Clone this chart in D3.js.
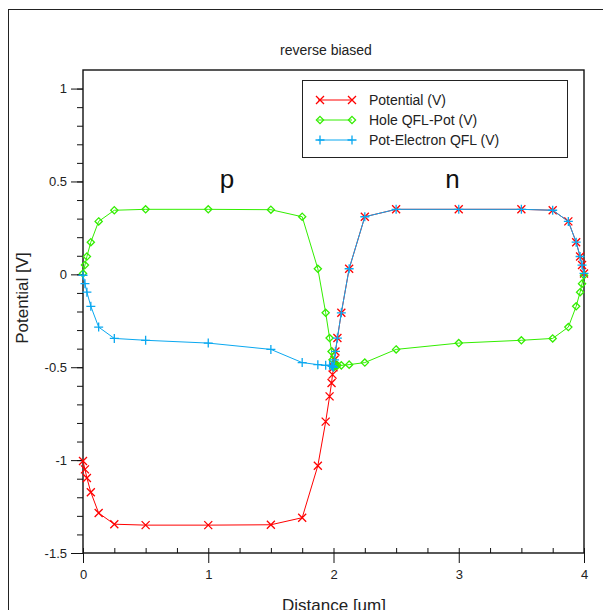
<!DOCTYPE html>
<html>
<head>
<meta charset="utf-8">
<script src="https://cdn.jsdelivr.net/npm/d3@7"></script>
<style>
  body { margin: 0; background: #fff; }
  svg { font-family: "Liberation Sans", Arial, sans-serif; }
</style>
</head>
<body>
<script>
// mesh positions (um)
var distance = [0, 0.015625, 0.03125, 0.0625, 0.125, 0.25, 0.5, 1, 1.5, 1.75, 1.875, 1.9375,
  1.96875, 1.984375, 1.9921875, 2, 2.0078125, 2.015625, 2.03125, 2.0625, 2.125, 2.25,
  2.5, 3, 3.5, 3.75, 3.875, 3.9375, 3.96875, 3.984375, 4];

var potential = [-1.005, -1.05, -1.096, -1.173, -1.285, -1.345, -1.35, -1.35, -1.348, -1.31, -1.03, -0.793,
  -0.657, -0.585, -0.54, -0.5, -0.46, -0.415, -0.343, -0.207, 0.03, 0.31,
  0.35, 0.35, 0.35, 0.345, 0.285, 0.173, 0.096, 0.05, 0.005];

var holeQfl = [0.005, 0.05, 0.096, 0.173, 0.285, 0.345, 0.35, 0.35, 0.348, 0.31, 0.03, -0.207,
  -0.343, -0.415, -0.46, -0.5, -0.495, -0.492, -0.49, -0.49, -0.486, -0.475,
  -0.404, -0.37, -0.355, -0.345, -0.284, -0.172, -0.096, -0.05, -0.005];

var elecQfl = [-0.005, -0.05, -0.096, -0.172, -0.284, -0.345, -0.355, -0.37, -0.404, -0.475, -0.486, -0.49,
  -0.49, -0.492, -0.495, -0.5, -0.46, -0.415, -0.343, -0.207, 0.03, 0.31,
  0.35, 0.35, 0.35, 0.345, 0.285, 0.173, 0.096, 0.05, 0.005];

var xTicks = [0, 1, 2, 3, 4];
var yTicks = [-1.5, -1, -0.5, 0, 0.5, 1];
var yTickLabels = ["-1.5", "-1", "-0.5", "0", "0.5", "1"];

var series = [
  { name: "Potential (V)", values: potential, color: "#ff0000", marker: "x" },
  { name: "Hole QFL-Pot (V)", values: holeQfl, color: "#33ee00", marker: "diamond" },
  { name: "Pot-Electron QFL (V)", values: elecQfl, color: "#0aa8f0", marker: "plus" }
];

var W = 603, H = 610;
var pLeft = 83, pRight = 584, pTop = 70, pBottom = 553;

var svg = d3.select("body").append("svg")
  .attr("width", W)
  .attr("height", H);

// outer frame
svg.append("rect")
  .attr("x", 8.5).attr("y", 9.5)
  .attr("width", W).attr("height", H)
  .attr("fill", "none").attr("stroke", "#222").attr("stroke-width", 1);

var xScale = d3.scaleLinear().domain([0, 4]).range([pLeft, pRight]);
var yScale = d3.scaleLinear().domain([-1.5, 1.1]).range([pBottom, pTop]);

// plot frame
svg.append("rect")
  .attr("x", pLeft).attr("y", pTop)
  .attr("width", pRight - pLeft).attr("height", pBottom - pTop)
  .attr("fill", "none").attr("stroke", "#111").attr("stroke-width", 1.4);

// x axis: minor ticks point inward, major ticks outward
svg.append("g")
  .attr("transform", "translate(0," + pBottom + ")")
  .call(d3.axisTop(xScale).tickValues(d3.range(0, 4.01, 0.25)).tickSize(5).tickFormat(""))
  .call(function(g){ g.select(".domain").remove(); });

svg.append("g")
  .attr("transform", "translate(0," + pBottom + ")")
  .call(d3.axisBottom(xScale).tickValues(xTicks).tickSize(10).tickPadding(7)
    .tickFormat(function(d){ return d; }))
  .call(function(g){ g.select(".domain").remove(); })
  .selectAll("text").attr("font-size", "13px").attr("fill", "#222")
  .attr("font-family", "Liberation Sans, Arial, sans-serif");

// y axis: ticks outward
svg.append("g")
  .attr("transform", "translate(" + pLeft + ",0)")
  .call(d3.axisLeft(yScale).tickValues(d3.range(-15, 11, 1).map(function(v){ return v / 10; }))
    .tickSize(6).tickFormat(""))
  .call(function(g){ g.select(".domain").remove(); });

svg.append("g")
  .attr("transform", "translate(" + pLeft + ",0)")
  .call(d3.axisLeft(yScale).tickValues(yTicks).tickSize(12).tickPadding(4)
    .tickFormat(function(d, i){ return yTickLabels[i]; }))
  .call(function(g){ g.select(".domain").remove(); })
  .selectAll("text").attr("font-size", "13px").attr("fill", "#222")
  .attr("font-family", "Liberation Sans, Arial, sans-serif");

svg.selectAll(".tick line").attr("stroke", "#111");

// titles
svg.append("text")
  .attr("x", 326).attr("y", 55)
  .attr("text-anchor", "middle").attr("font-size", "14px").attr("fill", "#222")
  .text("reverse biased");

svg.append("text")
  .attr("x", 334).attr("y", 611)
  .attr("text-anchor", "middle").attr("font-size", "17px").attr("fill", "#222")
  .text("Distance [um]");

svg.append("text")
  .attr("transform", "translate(28,298) rotate(-90)")
  .attr("text-anchor", "middle").attr("font-size", "17px").attr("fill", "#222")
  .text("Potential [V]");

svg.append("text")
  .attr("x", xScale(1.15)).attr("y", 188)
  .attr("text-anchor", "middle").attr("font-size", "26px").attr("fill", "#111")
  .text("p");

svg.append("text")
  .attr("x", xScale(2.95)).attr("y", 188)
  .attr("text-anchor", "middle").attr("font-size", "26px").attr("fill", "#111")
  .text("n");

function drawMarker(g, type, color) {
  if (type === "x") {
    g.append("path").attr("d", "M-4,-4L4,4M-4,4L4,-4")
      .attr("stroke", color).attr("stroke-width", 1.3).attr("fill", "none");
  } else if (type === "diamond") {
    g.append("path").attr("d", "M0,-3.6L3.6,0L0,3.6L-3.6,0Z")
      .attr("stroke", color).attr("stroke-width", 1.3).attr("fill", "none");
  } else {
    g.append("path").attr("d", "M-4.5,0L4.5,0M0,-4.5L0,4.5")
      .attr("stroke", color).attr("stroke-width", 1.3).attr("fill", "none");
  }
}

var line = d3.line()
  .x(function(d){ return xScale(d[0]); })
  .y(function(d){ return yScale(d[1]); });

var plot = svg.append("g");

series.forEach(function(s) {
  var pts = distance.map(function(x, i){ return [x, s.values[i]]; });
  plot.append("path")
    .datum(pts)
    .attr("d", line)
    .attr("fill", "none")
    .attr("stroke", s.color)
    .attr("stroke-width", 1);

  plot.selectAll(null)
    .data(pts)
    .enter()
    .append("g")
    .attr("transform", function(d){ return "translate(" + xScale(d[0]) + "," + yScale(d[1]) + ")"; })
    .each(function(){ drawMarker(d3.select(this), s.marker, s.color); });
});

// legend
var legend = svg.append("g").attr("transform", "translate(302,80)");
legend.append("rect")
  .attr("x", 0.5).attr("y", 0.5)
  .attr("width", 265).attr("height", 77)
  .attr("fill", "#fff").attr("stroke", "#222").attr("stroke-width", 1);

series.forEach(function(s, i) {
  var row = legend.append("g").attr("transform", "translate(0," + (20 + i * 20) + ")");
  row.append("line")
    .attr("x1", 16).attr("x2", 50)
    .attr("stroke", s.color).attr("stroke-width", 1);
  drawMarker(row.append("g").attr("transform", "translate(18,0)"), s.marker, s.color);
  drawMarker(row.append("g").attr("transform", "translate(50,0)"), s.marker, s.color);
  row.append("text")
    .attr("x", 67).attr("y", 5)
    .attr("font-size", "14px").attr("fill", "#222")
    .text(s.name);
});
</script>
</body>
</html>
